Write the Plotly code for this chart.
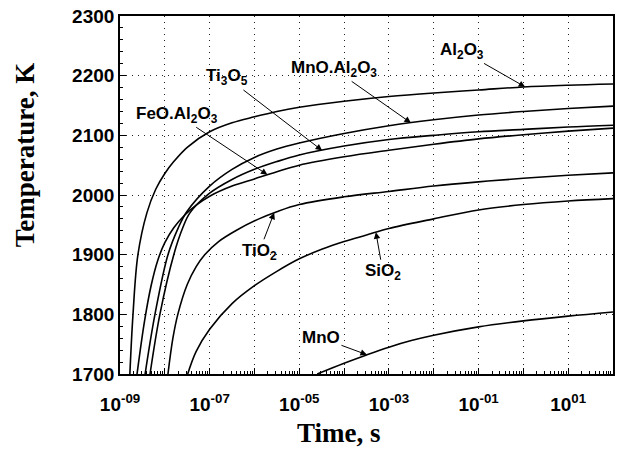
import numpy as np
import plotly.graph_objects as go

# ---- data: log10(time, s) and temperature (K) for each oxide ----
al2o3_logt = [-8.78, -8.71, -8.60, -8.40, -8.20, -8.00, -7.80, -7.50, -7.00, -6.50, -6.00, -5.50, -5.00, -4.00, -3.00, -2.00, -1.00, 0.00, 1.00, 2.00]
al2o3_T    = [1700, 1800, 1900, 1970, 2010, 2036, 2056, 2080, 2106, 2121, 2131, 2140, 2147, 2157, 2165, 2171, 2176, 2181, 2184, 2186]

mnoal_logt = [-8.44, -8.22, -7.93, -7.70, -7.51, -7.00, -6.50, -6.00, -5.50, -5.00, -4.00, -3.00, -2.00, -1.00, 0.00, 1.00, 2.00]
mnoal_T    = [1700, 1800, 1900, 1945, 1972, 2015, 2043, 2063, 2077, 2087, 2103, 2116, 2126, 2134, 2140, 2145, 2149]

ti3o5_logt = [-8.33, -8.11, -7.80, -7.60, -7.44, -7.00, -6.50, -6.00, -5.50, -5.00, -4.00, -3.00, -2.00, -1.00, 0.00, 1.00, 2.00]
ti3o5_T    = [1700, 1800, 1900, 1945, 1970, 2003, 2026, 2043, 2056, 2067, 2082, 2093, 2100, 2106, 2110, 2114, 2117]

feoal_logt = [-8.62, -8.45, -8.30, -8.16, -8.00, -7.80, -7.56, -7.30, -7.00, -6.50, -6.00, -5.50, -5.00, -4.00, -3.00, -2.00, -1.00, 0.00, 1.00, 2.00]
feoal_T    = [1700, 1790, 1850, 1890, 1920, 1945, 1966, 1983, 1998, 2015, 2027, 2039, 2050, 2064, 2075, 2085, 2094, 2101, 2107, 2112]

tio2_logt = [-7.93, -7.82, -7.71, -7.50, -7.30, -7.11, -6.80, -6.40, -5.90, -5.50, -5.00, -4.00, -3.00, -2.00, -1.00, 0.00, 1.00, 2.00]
tio2_T    = [1700, 1760, 1800, 1850, 1880, 1900, 1922, 1941, 1960, 1972, 1984, 1997, 2006, 2015, 2022, 2028, 2033, 2037]

sio2_logt = [-7.49, -7.30, -7.00, -6.50, -6.00, -5.50, -5.00, -4.50, -4.00, -3.50, -3.00, -2.00, -1.00, 0.00, 1.00, 2.00]
sio2_T    = [1700, 1738, 1775, 1818, 1848, 1872, 1893, 1909, 1922, 1933, 1944, 1960, 1975, 1984, 1990, 1994]

mno_logt = [-4.60, -4.00, -3.50, -3.00, -2.50, -2.00, -1.00, 0.00, 1.00, 2.00]
mno_T    = [1700, 1718, 1732, 1745, 1756, 1765, 1779, 1789, 1797, 1804]

x_exponents = list(range(-9, 3))
y_ticks = [1700, 1800, 1900, 2000, 2100, 2200, 2300]

# (label, log t, T, log t of arrow tip, label offset x px, label offset y px)
series = [
    ("Al<sub>2</sub>O<sub>3</sub>", al2o3_logt, al2o3_T, 0.04, -63, -36),
    ("MnO.Al<sub>2</sub>O<sub>3</sub>", mnoal_logt, mnoal_T, -2.51, -77, -54),
    ("Ti<sub>3</sub>O<sub>5</sub>", ti3o5_logt, ti3o5_T, -4.49, -95, -73),
    ("FeO.Al<sub>2</sub>O<sub>3</sub>", feoal_logt, feoal_T, -5.71, -90, -60),
    ("TiO<sub>2</sub>", tio2_logt, tio2_T, -5.56, -15, 39),
    ("SiO<sub>2</sub>", sio2_logt, sio2_T, -3.29, 7, 40),
    ("MnO", mno_logt, mno_T, -3.49, -46, -17),
]

fig = go.Figure()
for name, lt, T, _, _, _ in series:
    fig.add_trace(go.Scatter(
        x=[10 ** v for v in lt], y=T, mode="lines",
        line=dict(color="black", width=1.6, shape="spline", smoothing=1.0),
        name=name, hoverinfo="skip",
    ))

label_font = dict(family="Liberation Sans, Arial, sans-serif", size=17, color="black", weight="bold")
for name, lt, T, tip_lx, ax, ay in series:
    fig.add_annotation(
        x=tip_lx, y=float(np.interp(tip_lx, lt, T)), xref="x", yref="y",
        text=name, showarrow=True, ax=ax, ay=ay,
        arrowhead=2, arrowsize=1.3, arrowwidth=1, arrowcolor="black",
        font=label_font, standoff=0,
    )

def exp_label(k):
    s = ("-" if k < 0 else "") + f"{abs(k):02d}"
    return f"10<sup>{s}</sup>" if k % 2 != 0 else ""

minor_vals = [m * 10 ** k for k in range(-9, 2) for m in range(2, 10)]

tick_font = dict(family="Liberation Sans, Arial, sans-serif", size=19, color="black", weight="bold")
grid_dash = "1px,5px"

fig.update_xaxes(
    type="log", range=[-9, 2],
    tickmode="array", tickvals=[10 ** k for k in x_exponents],
    ticktext=[exp_label(k) for k in x_exponents],
    ticks="inside", ticklen=6, tickwidth=1, tickcolor="black",
    ticklabelstandoff=12,
    showline=True, linecolor="black", linewidth=1.6, mirror=True,
    showgrid=True, gridcolor="#222", gridwidth=1, griddash=grid_dash,
    minor=dict(tickmode="array", tickvals=minor_vals, ticks="inside", ticklen=3,
               tickcolor="black", showgrid=False),
    tickfont=tick_font, zeroline=False,
)
fig.update_yaxes(
    range=[1700, 2300], tickmode="array", tickvals=y_ticks,
    ticks="inside", ticklen=6, tickwidth=1, tickcolor="black",
    showline=True, linecolor="black", linewidth=1.6, mirror=True,
    showgrid=True, gridcolor="#222", gridwidth=1, griddash=grid_dash,
    minor=dict(dtick=20, ticks="inside", ticklen=3, tickcolor="black", showgrid=False),
    tickfont=tick_font, zeroline=False,
)

title_font = dict(family="Liberation Serif, Times New Roman, serif", size=27, color="black", weight="bold")
fig.add_annotation(text="Time, s", xref="paper", yref="paper", x=0.444, y=-0.165,
                   showarrow=False, font=title_font, xanchor="center", yanchor="middle")
fig.add_annotation(text="Temperature, K", xref="paper", yref="paper", x=-0.192, y=0.612,
                   showarrow=False, font=title_font, textangle=-90,
                   xanchor="center", yanchor="middle")

fig.update_layout(
    width=621, height=452,
    margin=dict(l=120, r=6, t=16, b=78),
    plot_bgcolor="white", paper_bgcolor="white",
    showlegend=False,
)

fig.write_html("out.html")
